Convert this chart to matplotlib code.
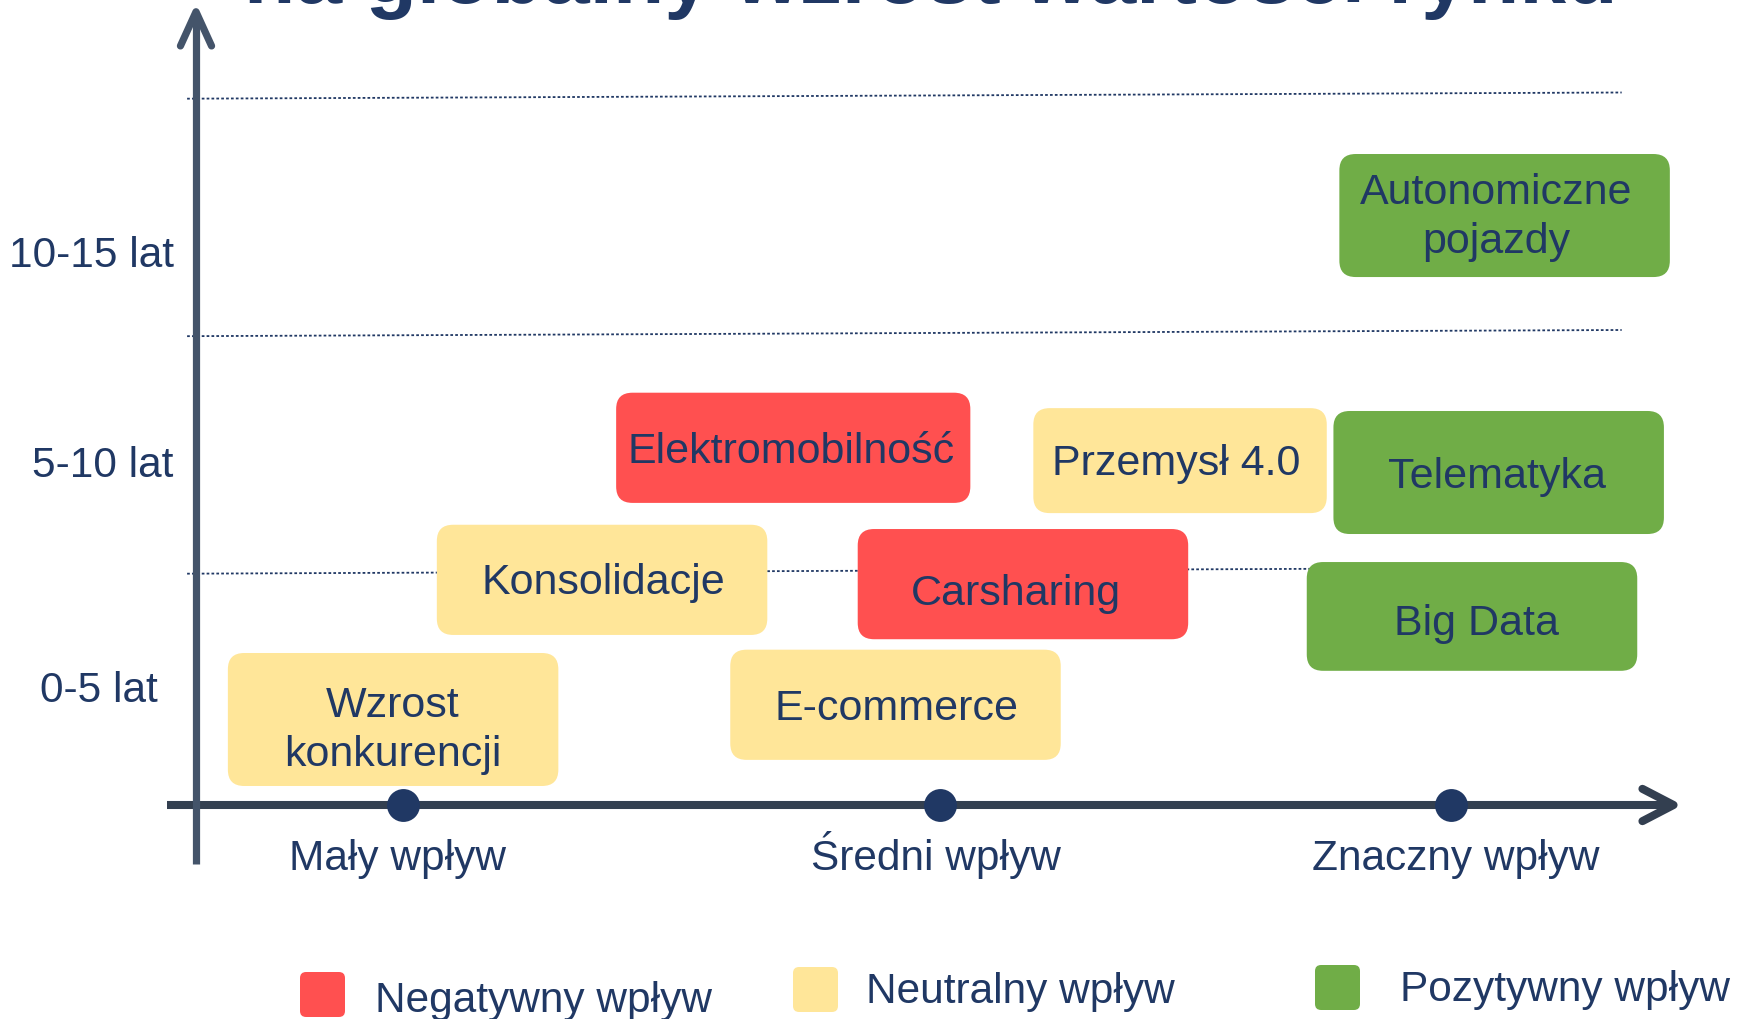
import matplotlib
matplotlib.use("Agg")
import matplotlib.pyplot as plt
from matplotlib.patches import FancyBboxPatch

# --- data -------------------------------------------------------------
trends = ["Wzrost\nkonkurencji", "Konsolidacje", "Elektromobilność", "E-commerce",
          "Carsharing", "Przemysł 4.0", "Telematyka", "Big Data",
          "Autonomiczne\npojazdy"]
impact = [13.3, 27.4, 40.3, 47.2, 55.8, 66.4, 87.9, 86.1, 88.3]     # impact score (0-100)
horizon = [1.80, 4.74, 7.52, 2.11, 4.65, 7.25, 7.00, 3.97, 12.41]  # years
effect = ["neu", "neu", "neg", "neu", "neg", "neu", "pos", "pos", "pos"]

impact_ticks = [14.0, 50.2, 84.7]
impact_labels = ["Mały wpływ", "Średni wpływ", "Znaczny wpływ"]
horizon_labels = ["0-5 lat", "5-10 lat", "10-15 lat"]
horizon_grid = [5, 10, 15]

effect_keys = ["neg", "neu", "pos"]
effect_names = ["Negatywny wpływ", "Neutralny wpływ", "Pozytywny wpływ"]

title = "na globalny wzrost wartości rynku"

# --- style ------------------------------------------------------------
colors = {"neg": "#FF5050", "neu": "#FFE699", "pos": "#70AD47"}
navy = "#203864"
plt.rcParams['font.family'] = ['Liberation Sans', 'DejaVu Sans']

W, H = 1741, 1019
X0, SX = 196.0, 14.82     # pixel of impact 0, pixels per unit
Y0, SY = 805.0, 47.5      # pixel of year 0, pixels per year
aspect = SX / SY

box_w = [22.3, 22.3, 23.9, 22.3, 22.3, 19.8, 22.3, 22.3, 22.3]
box_h = [2.80, 2.32, 2.32, 2.32, 2.32, 2.21, 2.59, 2.29, 2.59]
# small text nudges inside the boxes (pixels, right / down)
txt_dx = [0, 1, -2, 1, -7, -4, -2, 4, -8]
txt_dy = [11, 3, 4.5, 4.5, 10, 3, 4.5, 8, 2]
FS = 31
FS_LAB = 30.5

fig = plt.figure(figsize=(W / 100, H / 100), dpi=100)
ax = fig.add_axes([0, 0, 1, 1])
ax.set_xlim(-X0 / SX, (W - X0) / SX)
ax.set_ylim((Y0 - H) / SY, Y0 / SY)
ax.axis("off")

# dotted grid lines (slightly tilted as in the original)
for g in horizon_grid:
    ax.plot([-0.6, 96.2], [g - 0.13, g], ls=(0, (1.5, 1.2)), lw=1.3,
            color=navy, zorder=1)

# trend boxes
for i, (name, x, y, e) in enumerate(zip(trends, impact, horizon, effect)):
    w, h = box_w[i], box_h[i]
    ax.add_patch(FancyBboxPatch((x - w / 2, y - h / 2), w, h,
                                boxstyle="round,pad=0,rounding_size=1.1",
                                mutation_aspect=aspect, fc=colors[e], ec="none",
                                zorder=3))
    ax.text(x + txt_dx[i] / SX, y - txt_dy[i] / SY, name, ha="center",
            va="center", fontsize=FS, color=navy, linespacing=1.31, zorder=4)

# axes with open arrow heads
xc, yc = "#333F50", "#44546A"
ax.plot([-1.96, 99.3], [0, 0], lw=5.8, color=xc, solid_capstyle="butt", zorder=5)
ax.plot([97.6, 99.7, 97.6], [0.34, 0, -0.34], lw=5.8, color=xc,
        solid_capstyle="round", solid_joinstyle="round", zorder=5)
ax.plot([0, 0], [-1.24, 16.6], lw=5.2, color=yc, solid_capstyle="butt", zorder=5)
ax.plot([-1.05, 0, 1.05], [15.98, 16.7, 15.98], lw=5.2, color=yc,
        solid_capstyle="round", solid_joinstyle="round", zorder=5)

ax.scatter(impact_ticks, [0] * len(impact_ticks), s=560, color=navy, zorder=6,
           linewidths=0)

label_x = [13.6, 49.9, 85.0]
for x, lab in zip(label_x, impact_labels):
    ax.text(x, -1.37, lab, ha="center", va="baseline", fontsize=FS_LAB, color=navy)

ylab_right = [(158 - X0) / SX, (173 - X0) / SX, (174 - X0) / SX]
ylab_base = [2.17, 6.91, 11.33]
for x, y, lab in zip(ylab_right, ylab_base, horizon_labels):
    ax.text(x, y, lab, ha="right", va="baseline", fontsize=FS_LAB, color=navy)

# title (only its lower part is visible, as in the source)
ax.text(930.5 / W, 1 - 3 / H, title, transform=ax.transAxes, ha="center",
        va="baseline", fontsize=60.5, fontweight="bold", color=navy)

# legend
sq_x = [300, 793, 1315]
sq_top = [972, 967, 965]
txt_x = [375, 866, 1400]
txt_base = [1012, 1003, 1001]
for k, name, sx, st, tx, tb in zip(effect_keys, effect_names, sq_x, sq_top, txt_x, txt_base):
    ax.add_patch(FancyBboxPatch((sx / W, 1 - (st + 45) / H), 45 / W, 45 / H,
                                boxstyle="round,pad=0,rounding_size=0.0035",
                                mutation_aspect=W / H, transform=ax.transAxes,
                                fc=colors[k], ec="none", zorder=3))
    ax.text(tx / W, 1 - tb / H, name, transform=ax.transAxes, ha="left",
            va="baseline", fontsize=FS_LAB, color=navy)

fig.savefig("out.png", dpi=100)
